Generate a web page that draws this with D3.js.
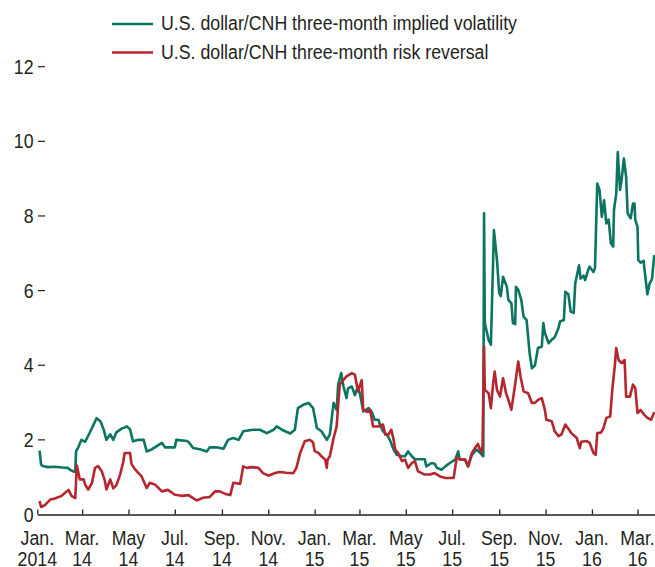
<!DOCTYPE html>
<html>
<head>
<meta charset="utf-8">
<script src="https://cdn.jsdelivr.net/npm/d3@7"></script>
<style>
  html, body { margin: 0; padding: 0; background: #fff; }
  svg { display: block; }
  text { font-family: "Liberation Sans", Arial, sans-serif; fill: #231f20; }
</style>
</head>
<body>
<svg id="chart" width="655" height="567"></svg>
<script>
const seriesNames = ["U.S. dollar/CNH three-month implied volatility", "U.S. dollar/CNH three-month risk reversal"];
const seriesColors = ["#0b7561", "#b5262e"];

const volDates = ["2014-01-04","2014-01-06","2014-01-08","2014-01-15","2014-01-24","2014-02-03","2014-02-10","2014-02-13","2014-02-18","2014-02-20","2014-02-21","2014-02-24","2014-02-28","2014-03-05","2014-03-11","2014-03-15","2014-03-20","2014-03-25","2014-03-29","2014-04-02","2014-04-07","2014-04-11","2014-04-15","2014-04-22","2014-04-29","2014-05-03","2014-05-07","2014-05-14","2014-05-21","2014-05-25","2014-06-01","2014-06-14","2014-06-18","2014-07-01","2014-07-03","2014-07-17","2014-07-20","2014-07-25","2014-08-03","2014-08-12","2014-08-16","2014-08-25","2014-09-03","2014-09-09","2014-09-16","2014-09-23","2014-09-29","2014-10-12","2014-10-21","2014-10-30","2014-11-08","2014-11-12","2014-11-21","2014-11-30","2014-12-06","2014-12-10","2014-12-17","2014-12-24","2014-12-30","2015-01-04","2015-01-10","2015-01-17","2015-01-21","2015-01-26","2015-01-30","2015-02-01","2015-02-05","2015-02-08","2015-02-12","2015-02-14","2015-02-19","2015-02-23","2015-02-27","2015-03-02","2015-03-06","2015-03-13","2015-03-17","2015-03-21","2015-03-26","2015-03-28","2015-04-01","2015-04-06","2015-04-10","2015-04-15","2015-04-19","2015-04-26","2015-04-30","2015-05-04","2015-05-09","2015-05-13","2015-05-20","2015-05-26","2015-05-28","2015-06-04","2015-06-08","2015-06-11","2015-06-17","2015-06-22","2015-06-28","2015-07-05","2015-07-09","2015-07-11","2015-07-18","2015-07-22","2015-07-27","2015-08-02","2015-08-07","2015-08-11","2015-08-12","2015-08-13","2015-08-18","2015-08-21","2015-08-25","2015-08-29","2015-09-01","2015-09-03","2015-09-06","2015-09-11","2015-09-13","2015-09-17","2015-09-19","2015-09-22","2015-09-23","2015-09-26","2015-09-30","2015-10-03","2015-10-07","2015-10-11","2015-10-14","2015-10-18","2015-10-22","2015-10-27","2015-10-29","2015-10-31","2015-11-05","2015-11-09","2015-11-13","2015-11-18","2015-11-20","2015-11-25","2015-11-27","2015-12-01","2015-12-04","2015-12-08","2015-12-10","2015-12-15","2015-12-17","2015-12-21","2015-12-23","2015-12-27","2015-12-29","2016-01-03","2016-01-05","2016-01-08","2016-01-11","2016-01-14","2016-01-17","2016-01-20","2016-01-23","2016-01-26","2016-01-29","2016-01-30","2016-02-02","2016-02-04","2016-02-07","2016-02-09","2016-02-12","2016-02-15","2016-02-17","2016-02-21","2016-02-24","2016-02-26","2016-02-27","2016-03-01","2016-03-02","2016-03-05","2016-03-09","2016-03-10","2016-03-14","2016-03-17","2016-03-20","2016-03-23"];
const volValues = [1.71,1.34,1.30,1.27,1.28,1.26,1.25,1.20,1.15,1.15,1.69,1.80,2.00,1.95,2.19,2.36,2.58,2.50,2.30,2.00,2.15,2.00,2.20,2.30,2.36,2.28,1.96,2.00,2.00,1.69,1.75,1.92,1.80,1.80,2.00,1.97,1.92,1.78,1.75,1.69,1.80,1.80,1.76,2.00,2.05,2.00,2.23,2.27,2.27,2.18,2.27,2.36,2.25,2.17,2.27,2.85,2.94,2.99,2.85,2.32,2.23,2.00,2.14,2.99,2.80,3.48,3.79,3.43,3.12,3.38,3.43,3.20,3.43,3.20,2.76,2.85,2.76,2.54,2.54,2.41,2.23,2.14,2.00,1.74,1.60,1.56,1.56,1.69,1.56,1.48,1.48,1.48,1.29,1.38,1.36,1.25,1.20,1.29,1.38,1.47,1.69,1.47,1.47,1.29,1.60,1.74,1.65,1.56,8.07,5.13,4.68,4.55,7.62,6.82,5.93,5.85,6.37,6.10,5.75,5.66,5.13,5.10,6.10,6.02,5.75,5.30,5.21,4.32,3.92,4.00,4.46,4.50,5.13,4.87,4.59,4.68,4.75,5.00,5.17,5.21,5.97,5.90,5.44,5.40,6.19,6.68,6.32,6.40,6.28,6.55,6.64,6.50,6.60,8.87,8.70,7.98,8.42,7.80,7.90,7.26,7.18,8.16,8.60,9.71,8.70,8.96,9.54,9.05,8.07,7.94,8.33,8.33,7.90,7.71,6.82,6.75,6.80,6.60,5.90,6.20,6.30,6.95];

const rrDates = ["2014-01-04","2014-01-06","2014-01-11","2014-01-18","2014-01-24","2014-02-02","2014-02-09","2014-02-11","2014-02-15","2014-02-20","2014-02-22","2014-02-26","2014-03-03","2014-03-05","2014-03-09","2014-03-14","2014-03-18","2014-03-22","2014-03-27","2014-03-31","2014-04-02","2014-04-07","2014-04-11","2014-04-15","2014-04-20","2014-04-24","2014-04-26","2014-05-03","2014-05-05","2014-05-10","2014-05-18","2014-05-25","2014-05-29","2014-06-05","2014-06-14","2014-06-22","2014-07-01","2014-07-10","2014-07-19","2014-07-25","2014-07-30","2014-08-07","2014-08-16","2014-08-23","2014-08-29","2014-09-07","2014-09-12","2014-09-16","2014-09-25","2014-09-29","2014-10-04","2014-10-10","2014-10-19","2014-10-25","2014-11-01","2014-11-10","2014-11-16","2014-11-25","2014-12-04","2014-12-08","2014-12-13","2014-12-19","2014-12-26","2014-12-30","2015-01-01","2015-01-06","2015-01-10","2015-01-15","2015-01-17","2015-01-18","2015-01-21","2015-01-26","2015-01-30","2015-02-03","2015-02-08","2015-02-12","2015-02-19","2015-02-23","2015-02-27","2015-03-04","2015-03-06","2015-03-11","2015-03-15","2015-03-19","2015-03-26","2015-04-01","2015-04-04","2015-04-08","2015-04-12","2015-04-15","2015-04-17","2015-04-21","2015-04-26","2015-04-30","2015-05-04","2015-05-09","2015-05-13","2015-05-17","2015-05-22","2015-05-26","2015-06-02","2015-06-08","2015-06-15","2015-06-22","2015-07-03","2015-07-07","2015-07-14","2015-07-18","2015-07-22","2015-07-27","2015-07-31","2015-08-04","2015-08-08","2015-08-10","2015-08-12","2015-08-13","2015-08-18","2015-08-21","2015-08-24","2015-08-26","2015-08-29","2015-09-02","2015-09-06","2015-09-10","2015-09-13","2015-09-17","2015-09-22","2015-09-26","2015-09-29","2015-10-03","2015-10-09","2015-10-14","2015-10-18","2015-10-22","2015-10-27","2015-10-31","2015-11-02","2015-11-09","2015-11-13","2015-11-18","2015-11-22","2015-11-27","2015-12-01","2015-12-05","2015-12-12","2015-12-16","2015-12-18","2015-12-25","2015-12-29","2016-01-03","2016-01-06","2016-01-08","2016-01-13","2016-01-16","2016-01-20","2016-01-25","2016-01-28","2016-01-31","2016-02-02","2016-02-05","2016-02-09","2016-02-13","2016-02-15","2016-02-20","2016-02-24","2016-02-27","2016-03-01","2016-03-05","2016-03-10","2016-03-14","2016-03-19","2016-03-23"];
const rrValues = [0.36,0.20,0.25,0.40,0.43,0.50,0.62,0.66,0.50,0.44,1.31,0.94,0.94,0.80,0.67,0.85,1.25,1.30,1.15,0.90,0.67,0.94,0.70,0.78,1.07,1.40,1.65,1.65,1.35,1.20,1.03,0.71,0.85,0.80,0.62,0.66,0.53,0.50,0.52,0.44,0.38,0.45,0.47,0.62,0.62,0.54,0.52,0.85,0.82,1.29,1.25,1.27,1.25,1.11,1.04,1.11,1.14,1.12,1.11,1.25,1.65,1.96,2.00,1.93,1.70,1.65,1.56,1.47,1.25,1.47,1.56,2.05,2.36,3.48,3.61,3.70,3.79,3.75,3.30,3.60,2.80,2.75,2.80,2.36,2.36,2.41,2.14,2.14,2.27,2.00,1.74,1.65,1.43,1.47,1.25,1.38,1.43,1.16,1.11,1.07,1.07,1.11,1.02,0.98,0.98,1.52,1.47,1.47,1.29,1.65,1.78,1.89,1.65,1.83,4.50,3.34,3.25,2.85,3.52,3.83,3.34,3.16,3.65,3.25,3.07,2.81,3.50,4.10,3.70,3.30,3.25,2.99,2.99,3.07,3.12,2.81,2.54,2.50,2.23,2.10,2.15,2.41,2.30,2.18,2.05,1.78,1.95,1.97,1.92,1.65,1.60,2.18,2.20,2.30,2.59,2.63,3.39,3.97,4.46,4.14,4.06,4.14,3.16,3.16,3.48,3.39,2.72,2.80,2.67,2.59,2.54,2.74];

const yTicks = [0, 2, 4, 6, 8, 10, 12];
const xTickMonths = ["Jan.","Mar.","May","Jul.","Sep.","Nov.","Jan.","Mar.","May","Jul.","Sep.","Nov.","Jan.","Mar."];
const xTickYears = ["2014","14","14","14","14","14","15","15","15","15","15","15","16","16"];

const FS = "21px";
const SX = 0.845; // condensed look

const parse = d3.timeParse("%Y-%m-%d");
const svg = d3.select("#chart");

const x = d3.scaleTime()
  .domain([new Date(2014, 0, 1), new Date(2016, 2, 24)])
  .range([37.3, 655]);
const y = d3.scaleLinear().domain([0, 12]).range([514.5, 66.7]);

// Y labels and tick dashes
const yg = svg.append("g");
yg.selectAll("text").data(yTicks).join("text")
  .attr("transform", d => `translate(33.5,${y(d) + 7}) scale(${SX},1)`)
  .attr("text-anchor", "end")
  .style("font-size", FS)
  .text(d => d);
yg.selectAll("line").data(yTicks.filter(d => d > 0)).join("line")
  .attr("x1", 38).attr("x2", 45)
  .attr("y1", d => y(d)).attr("y2", d => y(d))
  .attr("stroke", "#231f20").attr("stroke-width", 1.2);

// Lines
const line = d3.line().x(d => x(d[0])).y(d => y(d[1]));
const volData = volDates.map((d, i) => [parse(d), volValues[i]]);
const rrData = rrDates.map((d, i) => [parse(d), rrValues[i]]);

svg.append("path").datum(volData)
  .attr("d", line).attr("fill", "none")
  .attr("stroke", seriesColors[0]).attr("stroke-width", 2.6)
  .attr("stroke-linejoin", "round");
svg.append("path").datum(rrData)
  .attr("d", line).attr("fill", "none")
  .attr("stroke", seriesColors[1]).attr("stroke-width", 2.6)
  .attr("stroke-linejoin", "round");

// X axis
const tickDates = d3.timeMonth.every(2).range(new Date(2014, 0, 1), new Date(2016, 2, 2));
const xAxis = d3.axisBottom(x).tickValues(tickDates).tickSizeInner(-5).tickSizeOuter(0).tickFormat("");
const xg = svg.append("g").attr("transform", "translate(0,514.5)").call(xAxis);
xg.select(".domain").attr("stroke", "#231f20").attr("stroke-width", 1.5);
xg.selectAll(".tick line").attr("stroke", "#231f20").attr("stroke-width", 1.3);
xg.selectAll(".tick text").remove();

const lab = svg.append("g");
tickDates.forEach((d, i) => {
  const t = lab.append("text")
    .attr("transform", `translate(${x(d)},0) scale(${SX},1)`)
    .attr("text-anchor", "middle")
    .style("font-size", FS);
  t.append("tspan").attr("x", 0).attr("y", 545).text(xTickMonths[i]);
  t.append("tspan").attr("x", 0).attr("y", 566).text(xTickYears[i]);
});

// Legend
const leg = svg.append("g");
[24, 52.5].forEach((ly, i) => {
  leg.append("line")
    .attr("x1", 112).attr("x2", 153).attr("y1", ly).attr("y2", ly)
    .attr("stroke", seriesColors[i]).attr("stroke-width", 2.6);
  leg.append("text")
    .attr("transform", `translate(161,${ly + 6}) scale(${SX},1)`)
    .style("font-size", FS)
    .text(seriesNames[i]);
});
</script>
</body>
</html>
